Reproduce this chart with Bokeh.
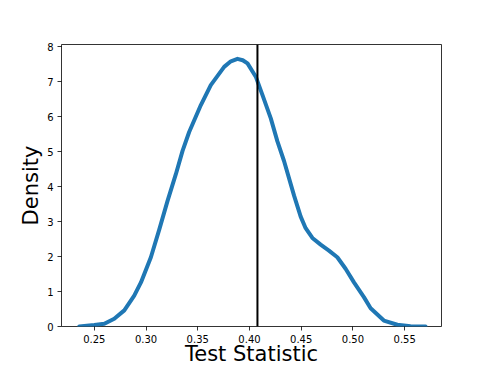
from bokeh.plotting import figure
from bokeh.models import Span, Range1d, FixedTicker
from bokeh.embed import file_html
from bokeh.resources import INLINE

# KDE curve of the test statistic
stat_x = [0.2355, 0.2500, 0.2597, 0.2693, 0.2790, 0.2886, 0.2951, 0.3047, 0.3127,
          0.3208, 0.3289, 0.3353, 0.3417, 0.3530, 0.3626, 0.3755, 0.3820, 0.3884,
          0.3935, 0.3981, 0.4061, 0.4125, 0.4206, 0.4270, 0.4334, 0.4431, 0.4495,
          0.4543, 0.4608, 0.4688, 0.4768, 0.4849, 0.4929, 0.5010, 0.5106, 0.5171,
          0.5299, 0.5429, 0.5557, 0.5702]
density = [0.00, 0.04, 0.08, 0.22, 0.46, 0.88, 1.26, 1.98, 2.76,
           3.59, 4.36, 5.02, 5.56, 6.33, 6.90, 7.42, 7.58, 7.65,
           7.61, 7.52, 7.14, 6.62, 5.95, 5.29, 4.73, 3.74, 3.14,
           2.81, 2.53, 2.34, 2.17, 1.98, 1.65, 1.26, 0.84, 0.52,
           0.17, 0.05, 0.01, 0.00]
observed = 0.4077
x_ticks = [0.25, 0.30, 0.35, 0.40, 0.45, 0.50, 0.55]
x_tick_labels = ["0.25", "0.30", "0.35", "0.40", "0.45", "0.50", "0.55"]
y_ticks = [0, 1, 2, 3, 4, 5, 6, 7, 8]

FONT = "DejaVu Sans"

p = figure(width=490, height=368, output_backend="svg", toolbar_location=None,
           x_range=Range1d(0.2183, 0.5856), y_range=Range1d(0, 8.06),
           min_border_left=61, min_border_right=49, min_border_top=44,
           min_border_bottom=42)

p.line(stat_x, density, line_color="#1f77b4", line_width=4,
       line_join="round", line_cap="round")
p.add_layout(Span(location=observed, dimension="height", line_color="black",
                  line_width=2))

p.xgrid.visible = False
p.ygrid.visible = False
p.outline_line_color = "black"
p.outline_line_width = 0.8
p.background_fill_color = "white"
p.border_fill_color = "white"

for ax in (p.xaxis[0], p.yaxis[0]):
    ax.axis_line_color = None
    ax.major_tick_line_color = "black"
    ax.major_tick_line_width = 0.8
    ax.major_tick_out = 4
    ax.major_tick_in = 0
    ax.minor_tick_line_color = None
    ax.major_label_text_font = FONT
    ax.major_label_text_font_size = "10px"
    ax.major_label_text_color = "black"
    ax.major_label_standoff = 4
    ax.axis_label_text_font = FONT
    ax.axis_label_text_font_size = "21px"
    ax.axis_label_text_font_style = "normal"
    ax.axis_label_text_color = "black"

p.xaxis.ticker = FixedTicker(ticks=x_ticks)
p.xaxis.major_label_overrides = {t: s for t, s in zip(x_ticks, x_tick_labels)}
p.yaxis.ticker = FixedTicker(ticks=y_ticks)

p.yaxis.axis_label = "Density"
p.yaxis.axis_label_standoff = 1
p.xaxis.axis_label = "Test Statistic"
p.xaxis.axis_label_standoff = -4

open("out.html", "w").write(file_html(p, INLINE))
